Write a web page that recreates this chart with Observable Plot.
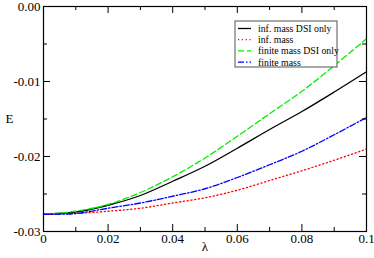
<!DOCTYPE html>
<html><head><meta charset="utf-8">
<script src="https://cdn.jsdelivr.net/npm/d3@7"></script>
<script src="https://cdn.jsdelivr.net/npm/@observablehq/plot@0.6"></script>
<style>
body{margin:0;background:#fff}
#chart svg{font-family:"Liberation Serif","DejaVu Serif",serif;background:#fff}
</style>
</head><body><div id="chart"></div>
<script>
// ---- data ----
const lambda = [0, 0.01, 0.02, 0.03, 0.04, 0.05, 0.06, 0.07, 0.08, 0.09, 0.1];
const infMassDSI = [-0.0277, -0.0274, -0.0265, -0.0252, -0.0233, -0.0213, -0.0189, -0.0164, -0.0140, -0.0114, -0.0087];
const infMass = [-0.0277, -0.0276, -0.0273, -0.0269, -0.0262, -0.0255, -0.0245, -0.0232, -0.0219, -0.0205, -0.0190];
const finiteMassDSI = [-0.0277, -0.0273, -0.0264, -0.0248, -0.0227, -0.0202, -0.0173, -0.0143, -0.0113, -0.0079, -0.0043];
const finiteMass = [-0.0277, -0.0276, -0.0269, -0.0262, -0.0253, -0.0243, -0.0228, -0.0211, -0.0193, -0.0171, -0.0148];
const seriesNames = ["inf. mass DSI only", "inf. mass", "finite mass DSI only", "finite mass"];
const seriesValues = [infMassDSI, infMass, finiteMassDSI, finiteMass];
const xTicks = [0, 0.02, 0.04, 0.06, 0.08, 0.1];
const xTickLabels = ["0", "0.02", "0.04", "0.06", "0.08", "0.1"];
const xMinor = [0.01, 0.03, 0.05, 0.07, 0.09];
const yTicks = [0, -0.01, -0.02, -0.03];
const yTickLabels = ["0.00", "-0.01", "-0.02", "-0.03"];
const yMinor = [-0.005, -0.015, -0.025];

// ---- styles ----
const colors = ["#000000", "#ff0000", "#00ee00", "#0000ff"];
const dashes = [null, "1.2,2.6", "6,3", "6,2,1.5,2"];
const W = 374, H = 258;
const mL = 43, mR = 8, mT = 6, mB = 27;
const innerW = W - mL - mR, innerH = H - mT - mB;
const major = 7, minor = 4;

const rows = [];
seriesValues.forEach((vals, s) => vals.forEach((v, i) => rows.push({x: lambda[i], y: v, s})));

const lineMarks = seriesValues.map((vals, s) =>
  Plot.line(rows.filter(r => r.s === s), {
    x: "x", y: "y", stroke: colors[s], strokeWidth: 1.3,
    strokeDasharray: dashes[s], curve: "catmull-rom"
  })
);

const plot = Plot.plot({
  width: W, height: H,
  marginLeft: mL, marginRight: mR, marginTop: mT, marginBottom: mB,
  x: {domain: [0, 0.1]},
  y: {domain: [-0.03, 0]},
  style: {fontFamily: "Liberation Serif, serif", fontSize: "13px", color: "#000"},
  marks: [
    ...lineMarks,
    // inward ticks bottom/top
    Plot.tickX(xTicks, {x: d => d, insetTop: innerH - major, stroke: "#000"}),
    Plot.tickX(xTicks, {x: d => d, insetBottom: innerH - major, stroke: "#000"}),
    Plot.tickX(xMinor, {x: d => d, insetTop: innerH - minor, stroke: "#000"}),
    Plot.tickX(xMinor, {x: d => d, insetBottom: innerH - minor, stroke: "#000"}),
    // inward ticks left/right
    Plot.tickY(yTicks, {y: d => d, insetRight: innerW - major, stroke: "#000"}),
    Plot.tickY(yTicks, {y: d => d, insetLeft: innerW - major, stroke: "#000"}),
    Plot.tickY(yMinor, {y: d => d, insetRight: innerW - minor, stroke: "#000"}),
    Plot.tickY(yMinor, {y: d => d, insetLeft: innerW - minor, stroke: "#000"}),
    Plot.frame({stroke: "#000", strokeWidth: 1.2}),
    Plot.axisX(xTicks, {tickSize: 0, tickPadding: 2, tickFormat: d => xTickLabels[xTicks.indexOf(d)], label: null, fontSize: 13}),
    Plot.axisY(yTicks, {tickSize: 0, tickPadding: 3, tickFormat: d => yTickLabels[yTicks.indexOf(d)], label: null, fontSize: 13}),
    Plot.text(["λ"], {frameAnchor: "bottom", dy: 19, fontSize: 13}),
    Plot.text(["E"], {frameAnchor: "left", dx: -38, fontSize: 13})
  ]
});
document.getElementById("chart").appendChild(plot);

// ---- legend (inside plot area, top right) ----
const svg = d3.select(plot);
const lg = svg.append("g").attr("transform", "translate(235,21)")
  .attr("text-anchor", "start").attr("font-family", "Liberation Serif, serif");
lg.append("rect").attr("width", 102).attr("height", 46)
  .attr("fill", "#fff").attr("stroke", "#555").attr("stroke-width", 1);
seriesNames.forEach((name, i) => {
  const y = 7.5 + i * 11.2;
  lg.append("line").attr("x1", 3).attr("x2", 16).attr("y1", y).attr("y2", y)
    .attr("stroke", colors[i]).attr("stroke-width", 1.3)
    .attr("stroke-dasharray", dashes[i]);
  lg.append("text").attr("x", 23).attr("y", y).attr("dy", "0.35em")
    .attr("text-anchor", "start")
    .attr("font-size", 9.8).attr("fill", "#000").text(name);
});
</script>
</body></html>
